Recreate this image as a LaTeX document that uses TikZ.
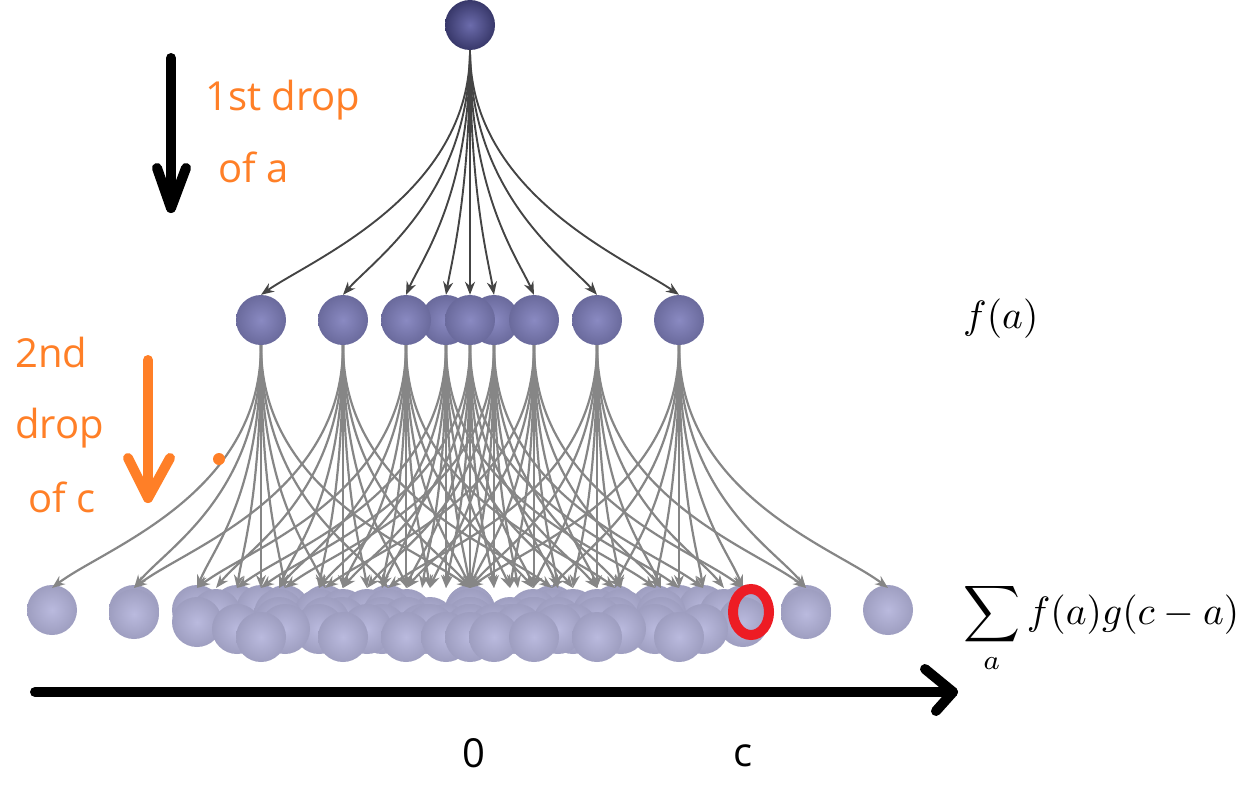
\documentclass[tikz,border=0pt]{standalone}
\usepackage{amsmath}
\usepackage{fontspec}
\setsansfont{Open Sans}
\usetikzlibrary{arrows.meta}
\definecolor{dropor}{HTML}{FF7F27}
\definecolor{ringred}{HTML}{ED1C24}
\definecolor{topin}{HTML}{6C6CAC}
\definecolor{topout}{HTML}{38386A}
\definecolor{midin}{HTML}{8A8AC2}
\definecolor{midout}{HTML}{6A6A9C}
\definecolor{lowin}{HTML}{BABADE}
\definecolor{lowout}{HTML}{9E9EC0}
\definecolor{toplink}{HTML}{444444}
\definecolor{lowlink}{HTML}{868686}

\begin{document}
\begin{tikzpicture}[x=1pt,y=-1pt,
  ball/.style={circle, minimum size=50pt, inner sep=0pt, shading=radial},
  topball/.style={ball, inner color=topin, outer color=topout},
  midball/.style={ball, inner color=midin, outer color=midout},
  lowball/.style={ball, inner color=lowin, outer color=lowout},
  toparr/.style={-{Stealth[length=13pt,width=10pt]}, draw=toplink, line width=1.9pt},
  midarr/.style={-{Stealth[length=13pt,width=10pt]}, draw=lowlink, line width=2.2pt},
  paint/.style={line width=10pt, line cap=round, line join=round},
  lbl/.style={font=\sffamily\fontsize{40}{48}\selectfont, inner sep=0pt, anchor=base west}
]
\useasboundingbox (0,0) rectangle (1257,795);

\node[topball] (top) at (470,25) {};
\foreach \i/\a in {4/-24,6/24,3/-64,7/64,2/-127,8/127,1/-209,9/209,5/0}
  \node[midball] (m\i) at ({470+\a},320) {};
\foreach \i/\a in {1/-209,2/-127,3/-64,4/-24,5/0,6/24,7/64,8/127,9/209}
  \draw[toparr] (top.south) .. controls +(0,144) and +({-0.25*\a},-36) .. (m\i.north);

\foreach \j/\b/\dy in {1/-209/0,9/209/0,2/-127/4,8/127/4,3/-64/12,7/64/12,4/-24/19,6/24/19,5/0/27}
  \foreach \i/\a in {1/-209,2/-127,3/-64,4/-24,5/0,6/24,7/64,8/127,9/209}
    \node[lowball] (b\i\j) at ({470+\a+\b},{610+\dy}) {};

\foreach \i/\a in {1/-209,2/-127,3/-64,4/-24,5/0,6/24,7/64,8/127,9/209}
  \foreach \j/\b in {1/-209,2/-127,3/-64,4/-24,5/0,6/24,7/64,8/127,9/209} {
    \coordinate (e\i\j) at ({470+\a+\b},588);
    \draw[midarr] (m\i.south) .. controls +(0,150) and +({-0.25*\b},-40) .. (e\i\j);
  }

\node[lbl, text=dropor] (l1a) at (205,110) {1st drop};
\node[lbl, text=dropor] (l1b) at (218,182) {of a};
\node[lbl, text=dropor] (l2a) at (15,367) {2nd};
\node[lbl, text=dropor] (l2b) at (15,438) {drop};
\node[lbl, text=dropor] (l2c) at (28,512) {of c};
\node[lbl] (zero) at (462,767) {0};
\node[lbl] (cpos) at (733,766) {c};

\node[inner sep=0pt, anchor=base west] (fa) at (963,328) {\scalebox{3.95}{$f(a)$}};
\node[inner sep=0pt, anchor=base west] (conv) at (963,624) {\scalebox{3.95}{$\displaystyle\sum_a f(a)g(c-a)$}};

\coordinate (d1s) at (171,58);
\coordinate (d1e) at (171,208);
\draw[paint] (d1s) -- (d1e);
\draw[paint] (157,168) -- (d1e) -- (186,168);

\coordinate (d2s) at (148,360);
\coordinate (d2e) at (148,498);
\draw[paint, dropor] (d2s) -- (d2e);
\draw[paint, dropor] (128,458) -- (d2e) -- (170,458);
\fill[dropor] (219,459) circle (6);

\coordinate (ax0) at (35,692);
\coordinate (ax1) at (953,692);
\draw[paint] (ax0) -- (ax1);
\draw[paint] (925,669) -- (ax1) -- (936,711);

\draw[ringred, line width=10pt] (751,612) ellipse (18 and 23);
\end{tikzpicture}
\end{document}
